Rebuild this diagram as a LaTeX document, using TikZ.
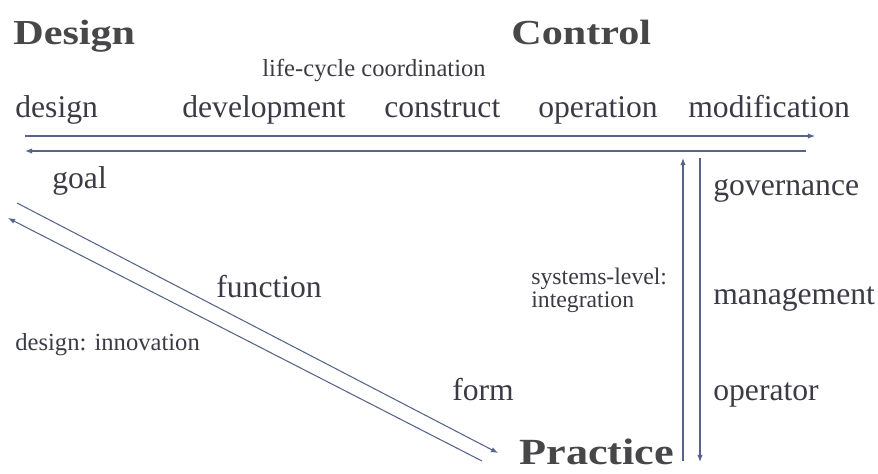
\documentclass[tikz,border=0pt]{standalone}
\usepackage{fontspec}
\setmainfont{Liberation Serif}
\newfontfamily\headfont{Liberation Serif}[FakeStretch=1.2]
\usetikzlibrary{arrows.meta}
\definecolor{ink}{HTML}{3B3B45}
\definecolor{headink}{HTML}{474749}
\definecolor{wire}{HTML}{56648A}

\begin{document}
\begin{tikzpicture}[x=0.02cm,y=-0.02cm,
  lbl/.style={anchor=base west,inner sep=0pt,text=ink,font=\fontsize{18}{20}\selectfont},
  note/.style={lbl,font=\fontsize{13.5}{14}\selectfont},
  head/.style={anchor=base west,inner sep=0pt,text=headink,font=\headfont\bfseries\fontsize{20}{24}\selectfont},
  arr/.style={draw=wire,line width=0.6pt,-{Latex[length=4pt,width=3pt]}}]
\useasboundingbox (0,0) rectangle (878,473);

% the three corners
\node [head] (tDesign) at (13,45) {Design};
\node [head] (tControl) at (511,45) {Control};
\node [head,font=\headfont\bfseries\fontsize{21}{25}\selectfont] (tPractice) at (519,464) {Practice};

% life-cycle stages
\node [note,font=\fontsize{14}{16}\selectfont] (lifecycle) at (262,76) {life-cycle coordination};
\node [lbl] (sDesign) at (15,117) {design};
\node [lbl] (sDev) at (182,117) {development};
\node [lbl] (sConstruct) at (384,117) {construct};
\node [lbl] (sOperation) at (538,117) {operation};
\node [lbl] (sModif) at (688,117) {modification};

\coordinate (fwdA) at (25,136);  \coordinate (fwdB) at (815,136);
\coordinate (bckA) at (806,151); \coordinate (bckB) at (25,151);
\draw [arr] (fwdA) -- (fwdB);
\draw [arr] (bckA) -- (bckB);

% design axis
\node [lbl] (goal) at (52,188) {goal};
\node [lbl] (function) at (216,297) {function};
\node [lbl] (form) at (452,400) {form};
\node [note,font=\fontsize{14}{16}\selectfont] (innov) at (15,350) {design: innovation};

\coordinate (dgA) at (17,203);  \coordinate (dgB) at (498,453);
\coordinate (dgC) at (482,461); \coordinate (dgD) at (8,218);
\draw [arr] (dgA) -- (dgB);
\draw [arr] (dgC) -- (dgD);

% control axis
\node [note] (sys) at (531,284) {systems-level:};
\node [note] (integ) at (531,307) {integration};
\node [lbl] (gov) at (713,195) {governance};
\node [lbl] (mgmt) at (713,304) {management};
\node [lbl] (oper) at (713,400) {operator};

\coordinate (upA) at (683,461); \coordinate (upB) at (683,158);
\coordinate (dnA) at (700,158); \coordinate (dnB) at (700,462);
\draw [arr] (upA) -- (upB);
\draw [arr] (dnA) -- (dnB);
\end{tikzpicture}
\end{document}
